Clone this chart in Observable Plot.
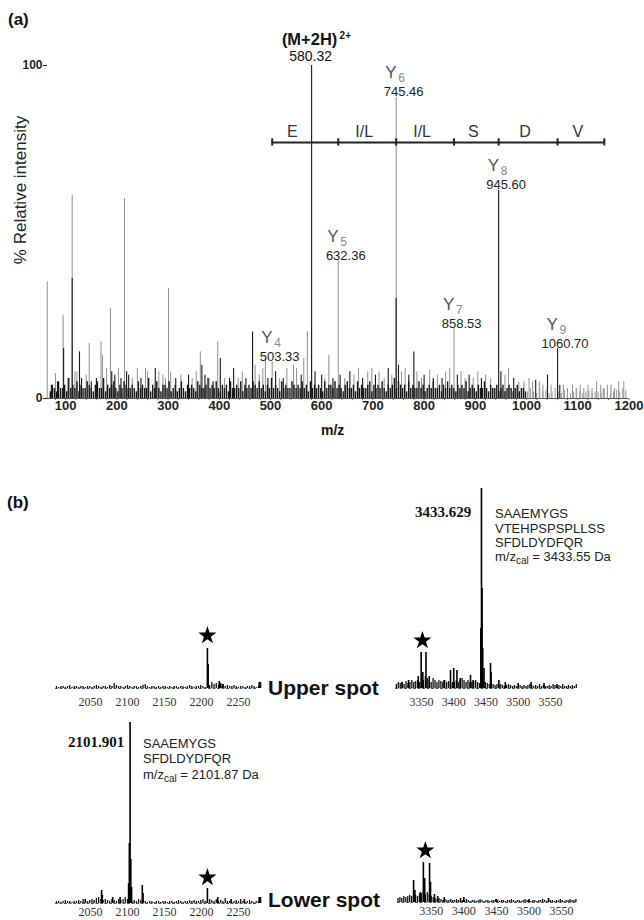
<!DOCTYPE html>
<html><head><meta charset="utf-8">
<script src="https://cdn.jsdelivr.net/npm/d3@7"></script>
<script src="https://cdn.jsdelivr.net/npm/@observablehq/plot@0.6"></script>
<style>
body{margin:0;background:#fff;}
#root{position:relative;width:644px;height:920px;overflow:hidden;font-family:"Liberation Sans",Arial,sans-serif;color:#111;}
.t{position:absolute;white-space:nowrap;line-height:1;}
.ser{font-family:"Liberation Serif","Times New Roman",serif;}
svg{position:absolute;}
</style></head><body><div id="root"></div>
<script>
// ---------------- Panel (a) data ----------------
const xTicks = [100,200,300,400,500,600,700,800,900,1000,1100,1200];
const yTicks = [0,100];
const noiseStart = 70, noiseStep = 4;
const noiseHeights = [
 2,4,3,2,5,3,3,4,2,6,3,4,3,5,2,4,3,3,5,4,
 3,2,4,5,3,3,6,2,4,3,4,5,3,2,4,3,5,4,3,3,
 4,3,2,5,3,4,3,3,6,2,4,3,5,3,2,4,4,3,5,2,
 3,4,2,3,5,3,2,4,3,4,3,2,5,4,3,3,4,6,3,4,
 3,5,3,2,4,3,4,2,5,3,3,4,3,5,2,4,3,4,3,5,
 4,3,5,3,4,2,4,3,6,3,4,3,2,5,3,4,3,3,5,4,
 3,4,3,5,3,4,2,5,3,4,3,4,3,2,5,3,4,4,3,5,
 3,4,3,2,4,5,3,3,4,2,5,3,4,3,3,4,5,2,4,3,
 4,3,5,3,2,4,3,4,6,3,5,4,3,4,2,5,3,4,3,3,
 5,3,4,2,3,4,3,5,3,3,4,2,4,3,5,3,4,3,2,4,
 3,4,3,5,2,3,4,3,2,4,3,3,5,3,2,4,3,3,4,2,
 3,4,2,3,4,3,2,3,4,2,3,3,2];
const tailStart = 1002, tailStep = 6;
const tailHeights = [2,3,2,1.5,3,2,2.5,1.5,2,3,2,1.5,2.5,2,1.5,2,3,2,1.5,2,2.5,1.5,2,2,1.5,3,2,1.5,2,2.5,2,3,2.5];
const grayPeaks = [[64,35],[80,7.5],[95,25],[104,6],[112.7,61],[118,8],[122,8],[140,7],[146,16.5],[169,17],[172,13],[180,9],[187.5,27],[203,9],[215,60],[230,6],[240,9],[256,9],[260,8],[282,8],[290,7],[295,6],[301,33],[305,8],[325,7],[347,6],[355,8],[363,14],[380,6],[397,17],[410,6],[437,6],[445,8],[470,10],[478,7],[485,9],[490,12],[503.33,11],[518,6],[532,9],[545,10],[551,9],[565,12],[572,20],[606,6],[614,13],[632.36,41.4],[645,6],[663,7],[672,9],[690,8],[698,9],[712,8],[722,6],[737,7],[745.46,90.4],[756,8],[763,9],[786,8],[795,6],[811,8.5],[826,7],[842,8],[850,9],[858.53,21],[872,8],[880,6],[896,6],[905,8],[920,7],[930,6],[958,7],[965,9],[985,5],[995,5],[1005,6],[1012,5],[1025,5],[1032,4],[1048,4],[1072,4],[1080,3],[1090,4],[1097,3],[1105,4],[1112,3],[1120,4],[1128,3],[1137,5],[1145,4],[1150,3],[1158,4],[1165,4],[1172,3],[1180,5],[1190,5]];
const blackPeaks = [[72,4],[84,5],[96,15],[112.7,36],[127,14],[131,6],[150,5],[160,6],[190,8],[196,7],[208,6],[219,8],[223,7],[247,6],[275,9],[315,6],[340,7],[366,10],[372,7],[388,5],[402,12],[420,6],[428,9],[452,6],[465,20],[495,6],[510,8],[525,6],[560,7],[580.32,100],[587,8],[600,7],[622,6],[636,7],[655,8],[680,6],[705,7],[730,9],[745.46,30],[750,10],[770,7],[780,14],[800,7],[818,6],[835,6],[865,7],[888,7],[912,6],[945.6,62.5],[950,8],[975,6],[1018,5.5],[1041,7],[1060.7,15],[1065,4]];
const yIonNum = ["4","5","6","7","8","9"];
const yIonMz = [503.33,632.36,745.46,858.53,945.60,1060.70];
const yIonInt = [11,41.4,90.4,21,62.5,15];
const yIonLabel = ["503.33","632.36","745.46","858.53","945.60","1060.70"];
const precursor = {mz:580.32, int:100, label:"580.32"};
const ladderMz = [503.33,632.36,745.46,858.53,945.60,1060.70,1152];
const residues = ["E","I/L","I/L","S","D","V"];
const ladderLevel = 76.9;

// ---------------- Panel (b) data ----------------
const ticksLow = [2050,2100,2150,2200,2250];
const ticksHigh = [3350,3400,3450,3500,3550];
const ulNoise = [1,0.5,1,1,0.5,1,1.5,0.5,1,1, 0.5,1,1,0.5,1,1,0.5,1,1.5,1, 0.5,1,1,0.5,1.5,1,2.5,1.5,1,1, 0.5,1,1.5,1,0.5,1,1,0.5,1,1.5, 2,1,0.5,1,1,0.5,1,0.5,1,1, 0.5,1,0.5,1,1,0.5,1,1,0.5,1, 1.5,1,0.5,1,1,1.5,1,0.5,1,1.5, 3,2,2.5,1.5,1,2,1,1.5,1,1, 1.5,1,0.5,1,1,0.5,1,1,1.5,1, 0.5,1,3];
const llNoise = [1,1,0.5,1,1.5,1,1,0.5,1,1, 1.5,1,2,1,1,1.5,2,1.5,2.5,3, 2,1.5,2,1.5,1,2,1.5,1,2,1.5, 2,3,2,1.5,1,1.5,1,2,1.5,1, 1,0.5,1,1,0.5,1,1,0.5,1,1, 0.5,1,1,0.5,1,1.5,1,0.5,1,1, 1.5,1,1.5,1,1,1.5,2,1,1.5,2, 1.5,1,2,1,1.5,1,2.5,1,1,0.5, 1,1.5,1,2,1,0.5,1,1.5,1,0.5, 1,1,3];
const urNoise = [2,3,2.5,3,2,3.5,2.5,3,4,3, 3.5,4,3,5,4,6,5,4,3,5, 4,3,4,3.5,3,4,3,3.5,2.5,3, 3,4,3,4,5,4,3,4,3,3, 3.5,4,3,2.5,3,3.5,3,2.5,2,2.5, 2,1.5,2,1.5,2,1.5,1,1.5,2,1.5, 1,1.5,1,2,1.5,1,1.5,1,1.5,2, 1.5,1,1.5,1,2,1,1.5,1,1,1.5, 1,2,1.5,1,1.5,1,2,1,1,1.5, 1,1.5,1,2];
const lrNoise = [2,2.5,2,3,2.5,3,3.5,3,4,3.5, 3,4,4.5,5,4,5,4,3,2.5,2, 1.5,2,1.5,1,1.5,1,1,1.5,1,1, 1.5,1,0.5,1,1,1.5,1,0.5,1,1, 0.5,1,1.5,1,0.5,1,1,0.5,1,1, 1.5,1,0.5,1,1,0.5,1,1,1.5,1, 0.5,1,1,0.5,1,1.5,1,1,0.5,1, 1,0.5,1,1,1.5,1,0.5,1,1,1, 0.5,1,1,1.5,1,0.5,1,1,1.5,1, 1,1.5];
const ulPeaks = [[2208,20],[2209,12],[2224,3.5],[2226,2.5],[2229,2],[2278,3]];
const llPeaks = [[2103.5,90.5],[2102.5,30],[2104.5,22],[2101.5,10],[2105.5,8],[2120,9],[2121,5],[2065,6.5],[2066,4],[2208,7.5],[2222,3],[2240,2],[2258,2],[2278,3],[2080,3],[2090,3],[2043,2]];
const urPeaks = [[3349.5,18],[3357,18],[3352,8],[3362,6],[3345,6],[3330,4],[3320,3],[3395,9],[3400,10],[3405,9],[3410,5],[3385,4],[3426,6.5],[3430,4],[3443,100],[3444,50],[3442,30],[3445,20],[3447,10],[3457,12.5],[3458,8],[3470,4],[3480,3],[3500,2.5],[3520,3],[3540,2.5],[3560,2]];
const lrPeaks = [[3323,11],[3325,6],[3338,20],[3340,12],[3347.5,19.5],[3349,10],[3333,5],[3355,4],[3360,3],[3370,2.5],[3395,2],[3400,2.5],[3450,1.5],[3500,1.5],[3530,2]];
const ulStar = [2208,26.5], urStar = [3351.5,24], llStar = [2208,13], lrStar = [3341,26];

// ---------------- build ----------------
const root = document.getElementById("root");
const SANS = "Liberation Sans, Arial, sans-serif";
const SERIF = "Liberation Serif, Times New Roman, serif";
const plain = d => String(d);
function place(svg, left, top){ svg.style.left = left+"px"; svg.style.top = top+"px"; root.appendChild(svg); }

const noiseA = noiseHeights.map((h,i)=>({mz: noiseStart + noiseStep*i, h}));
const tailA = tailHeights.map((h,i)=>({mz: tailStart + tailStep*i, h}));
const yIons = yIonNum.map((n,i)=>({n, mz:yIonMz[i], int:yIonInt[i], lab:yIonLabel[i]}));
const mids = residues.map((r,i)=>({r, mz:(ladderMz[i]+ladderMz[i+1])/2}));
const gray = "#8e8e8e", dark = "#161616";

const A = Plot.plot({
  width: 644, height: 440,
  marginLeft: 47, marginRight: 15.6, marginTop: 65, marginBottom: 42,
  x: {domain: [64.5, 1200], label: null},
  y: {domain: [0, 100], label: null},
  style: {fontFamily: SANS, background: "transparent", overflow: "visible"},
  marks: [
    Plot.ruleX(grayPeaks, {x: d=>d[0], y1: 0, y2: d=>d[1], stroke: gray, strokeWidth: 1}),
    Plot.ruleX(tailA, {x: "mz", y1: 0, y2: "h", stroke: "#9a9a9a", strokeWidth: 1}),
    Plot.ruleX(noiseA, {x: "mz", y1: 0, y2: "h", stroke: dark, strokeWidth: 1.4}),
    Plot.ruleX(blackPeaks, {x: d=>d[0], y1: 0, y2: d=>d[1], stroke: dark, strokeWidth: 1.1}),
    Plot.ruleY([0], {stroke: "#555", strokeWidth: 1}),
    Plot.axisX({ticks: d3.range(80, 1201, 20), tickSize: 2, tickFormat: () => "", color: "#666"}),
    Plot.axisX({ticks: xTicks, tickFormat: plain, tickSize: 0, tickPadding: 2, fontSize: 13, fontWeight: "bold", color: "#222", label: null}),
    Plot.axisY({ticks: yTicks, tickFormat: plain, tickSize: 4, tickPadding: 1, fontSize: 12, fontWeight: "bold", color: "#222", label: null}),
    // sequence ladder
    Plot.ruleY([{y: ladderLevel, x1: ladderMz[0], x2: ladderMz[ladderMz.length-1]}], {y: "y", x1: "x1", x2: "x2", stroke: "#222", strokeWidth: 2}),
    Plot.ruleX(ladderMz, {x: d=>d, y1: ladderLevel-1.1, y2: ladderLevel+1.1, stroke: "#222", strokeWidth: 2}),
    Plot.text(mids.slice(0,1), {x: "mz", y: ladderLevel, text: "r", dx: -13, dy: -5, lineAnchor: "bottom", fontSize: 16, fill: "#333"}),
    Plot.text(mids.slice(1), {x: "mz", y: ladderLevel, text: "r", dx: -3, dy: -5, lineAnchor: "bottom", fontSize: 16, fill: "#333"}),
    // Y ion labels
    Plot.text(yIons, {x: "mz", y: "int", text: "lab", dx: 7.5, dy: -1, lineAnchor: "bottom", fontSize: 13, fill: "#222"}),
    Plot.text(yIons, {x: "mz", y: "int", text: () => "Y", dx: -11, dy: -19, textAnchor: "start", lineAnchor: "bottom", fontSize: 17, fill: "#555"}),
    Plot.text(yIons, {x: "mz", y: "int", text: "n", dx: 2, dy: -15, textAnchor: "start", lineAnchor: "bottom", fontSize: 12, fill: "#888"}),
    // precursor
    Plot.text([precursor], {x: "mz", y: "int", text: "label", dx: -1, dy: -5, lineAnchor: "bottom", fontSize: 14, fill: "#111"}),
    Plot.text([precursor], {x: "mz", y: "int", text: () => "(M+2H)", dx: -2, dy: -21, lineAnchor: "bottom", fontSize: 16.5, fontWeight: "bold", fill: "#111"}),
    Plot.text([precursor], {x: "mz", y: "int", text: () => "2+", dx: 28, dy: -27, textAnchor: "start", lineAnchor: "bottom", fontSize: 10, fontWeight: "bold", fill: "#111"})
  ]
});
place(A, 0, 0);

function mini(o){
  const noise = o.noise.map((h,i)=>({mz: o.start + o.step*i, h}));
  return Plot.plot({
    width: o.w, height: o.h,
    marginLeft: o.ml, marginRight: o.mr, marginTop: o.mt, marginBottom: o.mb,
    x: {domain: o.domain, label: null},
    y: {domain: [0, 100], axis: null},
    style: {fontFamily: SERIF, background: "transparent", overflow: "visible"},
    marks: [
      Plot.ruleY([0], {stroke: "#555", strokeWidth: 1, strokeDasharray: "3,1.5"}),
      Plot.ruleX(noise, {x: "mz", y1: 0, y2: "h", stroke: "#111", strokeWidth: 1.3}),
      Plot.ruleX(o.peaks, {x: d=>d[0], y1: 0, y2: d=>d[1], stroke: "#000", strokeWidth: 1.6}),
      Plot.dot([o.star], {x: d=>d[0], y: d=>d[1], symbol: "star", r: 5.7, fill: "#000", stroke: "none"}),
      Plot.axisX({ticks: o.ticks, tickFormat: plain, tickSize: 0, tickPadding: o.tp, fontSize: 12, fontFamily: SERIF, color: "#333", label: null})
    ]
  });
}
place(mini({w:270,h:250,ml:55,mr:13,mt:18,mb:32,domain:[2002.7,2275.7],ticks:ticksLow,tp:9,noise:ulNoise,start:2004,step:3,peaks:ulPeaks,star:ulStar}), 0, 470);
place(mini({w:220,h:250,ml:15,mr:25,mt:18,mb:32,domain:[3309.7,3588.8],ticks:ticksHigh,tp:9,noise:urNoise,start:3311,step:3,peaks:urPeaks,star:urStar}), 380, 470);
place(mini({w:270,h:230,ml:55,mr:13,mt:13,mb:17,domain:[2002.7,2275.7],ticks:ticksLow,tp:4,noise:llNoise,start:2004,step:3,peaks:llPeaks,star:llStar}), 0, 690);
place(mini({w:220,h:230,ml:17,mr:24,mt:12,mb:18,domain:[3298.3,3572.9],ticks:ticksHigh,tp:4,noise:lrNoise,start:3299,step:3,peaks:lrPeaks,star:lrStar}), 380, 690);

// ---------------- free text ----------------
function txt(html, left, baseline, fs, extra, serif){
  const d = document.createElement("div");
  d.className = "t" + (serif ? " ser" : "");
  d.innerHTML = html;
  d.style.left = left + "px";
  d.style.top = (baseline - (serif ? 0.84 : 0.85) * fs) + "px";
  d.style.fontSize = fs + "px";
  if (extra) d.style.cssText += extra;
  root.appendChild(d);
  return d;
}
txt("(a)", 8, 25, 17, "font-weight:bold;");
txt("m/z", 321, 435, 14, "font-weight:bold;");
const yl = document.createElement("div");
yl.className = "t"; yl.textContent = "% Relative intensity";
yl.style.cssText += "left:20px;top:190px;font-size:17px;color:#222;transform:translate(-50%,-50%) rotate(-90deg);";
root.appendChild(yl);

txt("(b)", 7, 508, 17, "font-weight:bold;");
txt("3433.629", 415, 518, 15, "font-weight:bold;", true);
const sub = (s) => `<span style="font-size:10px;position:relative;top:3px">${s}</span>`;
txt("SAAEMYGS", 495, 518, 13, "color:#222;");
txt("VTEHPSPSPLLSS", 495, 533, 13, "color:#222;");
txt("SFDLDYDFQR", 495, 547, 13, "color:#222;");
txt("m/z" + sub("cal") + " = 3433.55 Da", 495, 561, 13, "color:#222;");
txt("2101.901", 68, 748, 15, "font-weight:bold;", true);
txt("SAAEMYGS", 143, 748, 13, "color:#222;");
txt("SFDLDYDFQR", 143, 763, 13, "color:#222;");
txt("m/z" + sub("cal") + " = 2101.87 Da", 143, 779, 13, "color:#222;");
txt("Upper spot", 268, 695, 21, "font-weight:bold;");
txt("Lower spot", 268, 907, 21, "font-weight:bold;");
</script></body></html>
